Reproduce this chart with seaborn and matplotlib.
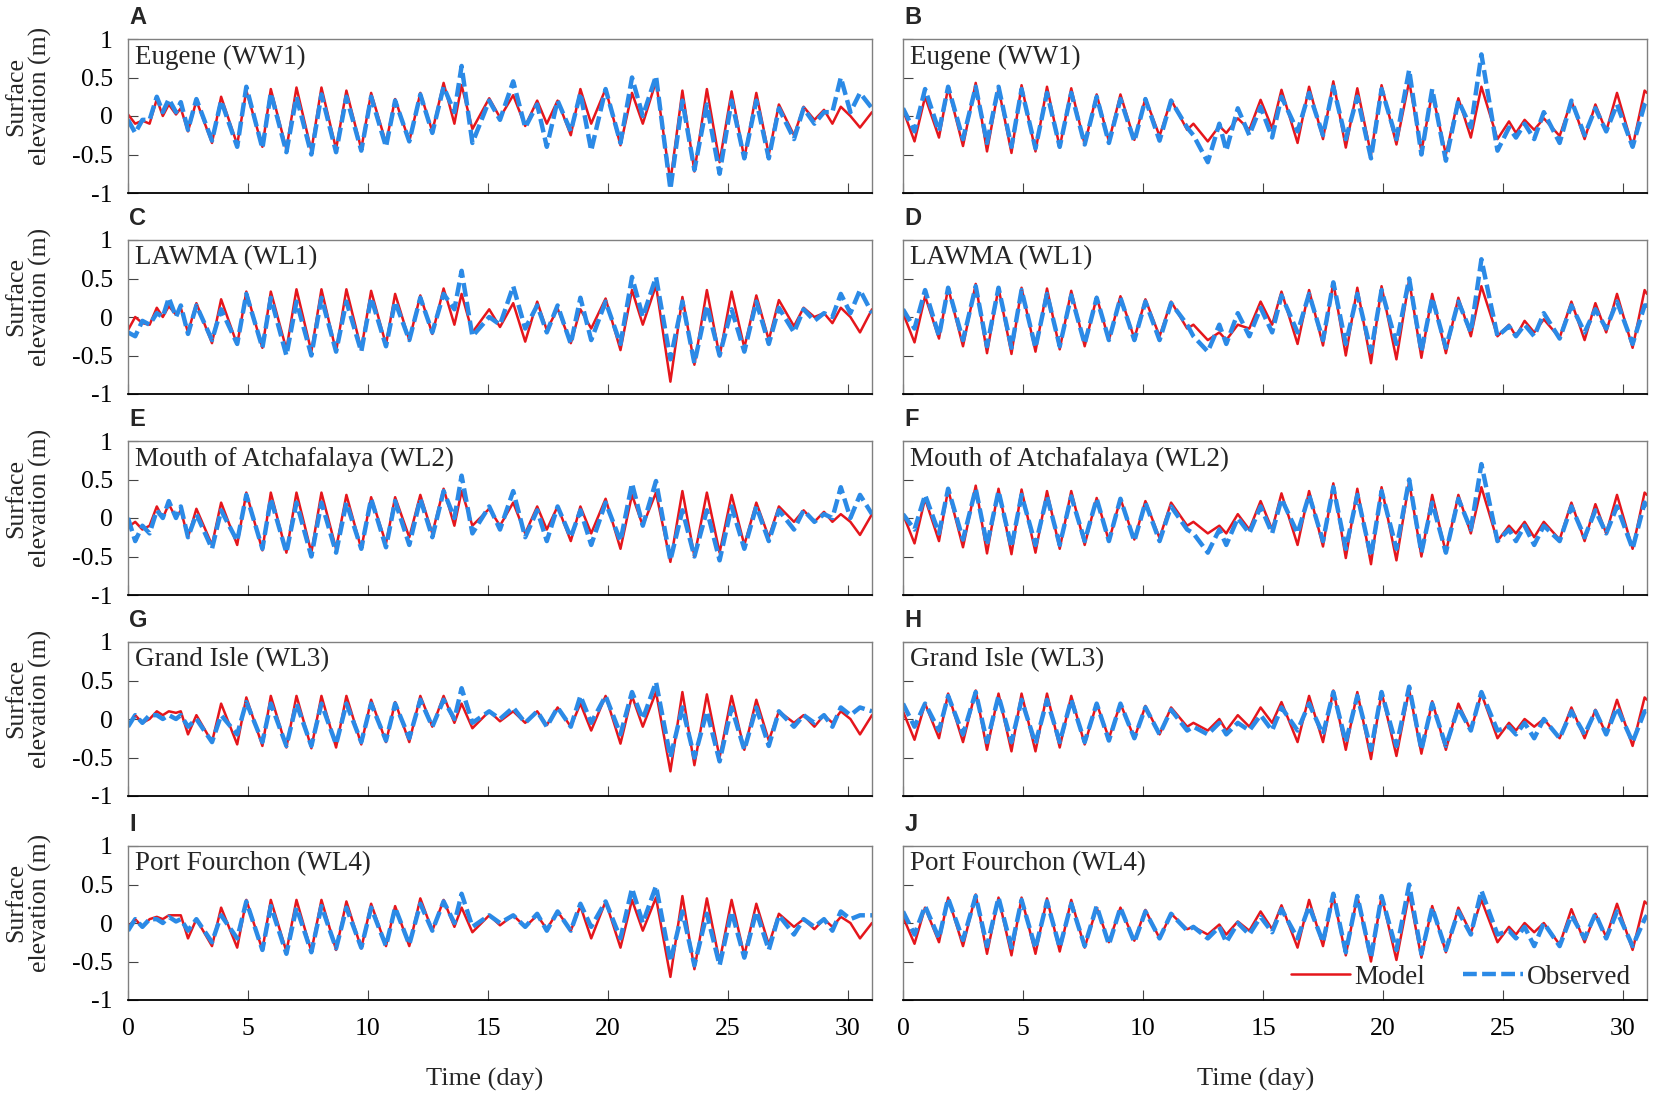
import matplotlib
matplotlib.use("Agg")
import matplotlib.pyplot as plt
import seaborn as sns

# extremum times (day)
t_left = [0.0, 0.3, 0.6, 0.9, 1.2, 1.45, 1.7, 2.0, 2.2, 2.5, 2.85, 3.5,
          3.88, 4.55, 4.93, 5.6, 5.95, 6.6, 7.02, 7.64, 8.06, 8.67, 9.1, 9.72, 10.13, 10.75, 11.13, 11.72, 12.18, 12.68, 13.15, 13.6, 13.9, 14.35,
          15.05, 15.5, 16.05, 16.55, 17.05, 17.45, 17.9, 18.45, 18.85, 19.3, 19.9, 20.52,
          21.0, 21.45, 22.0, 22.6, 23.1, 23.6, 24.12, 24.65, 25.15, 25.68, 26.18, 26.7, 27.12, 27.75, 28.15, 28.6, 29.0, 29.35, 29.7, 30.1, 30.5, 31.0]
t_right = [0.0, 0.48, 0.92, 1.5, 1.88, 2.5, 3.03, 3.5, 3.98, 4.52, 4.94, 5.52,
           6.0, 6.53, 7.01, 7.57, 8.07, 8.58, 9.06, 9.64, 10.1, 10.69, 11.17, 11.84,
           12.1, 12.7, 13.18, 13.47, 13.95, 14.43, 14.9, 15.38, 15.77, 16.44,
           16.92, 17.5, 17.93, 18.45, 18.93, 19.5, 19.94, 20.56, 21.09, 21.6, 22.05, 22.62, 23.14, 23.66,
           24.1, 24.77, 25.25, 25.54, 25.9, 26.3, 26.7, 27.36, 27.85, 28.4, 28.85, 29.3, 29.75, 30.4, 30.9, 31.0]

# surface elevation (m), left column
a_model = [0.02, -0.1, -0.06, -0.1, 0.22, 0.0, 0.15, 0.02, 0.1, -0.2, 0.2, -0.35,
           0.25, -0.37, 0.33, -0.4, 0.35, -0.43, 0.37, -0.45, 0.37, -0.43, 0.33, -0.43, 0.3, -0.35, 0.22, -0.33, 0.3, -0.2, 0.43, -0.1, 0.4, -0.17,
           0.23, -0.02, 0.27, -0.13, 0.2, -0.1, 0.2, -0.25, 0.35, -0.1, 0.35, -0.38,
           0.3, -0.1, 0.45, -0.85, 0.33, -0.72, 0.35, -0.6, 0.32, -0.55, 0.3, -0.5, 0.15, -0.25, 0.12, -0.05, 0.08, -0.1, 0.12, 0.0, -0.15, 0.05]
a_obs = [-0.05, -0.22, -0.05, -0.05, 0.25, 0.05, 0.22, 0.05, 0.18, -0.18, 0.22, -0.32,
         0.2, -0.4, 0.38, -0.42, 0.3, -0.47, 0.25, -0.5, 0.28, -0.47, 0.25, -0.45, 0.25, -0.4, 0.2, -0.33, 0.28, -0.22, 0.38, 0.05, 0.65, -0.35,
         0.2, -0.05, 0.45, -0.15, 0.15, -0.4, 0.2, -0.2, 0.3, -0.45, 0.35, -0.35,
         0.5, 0.0, 0.52, -0.95, 0.2, -0.7, 0.15, -0.75, 0.2, -0.55, 0.2, -0.55, 0.1, -0.3, 0.1, -0.1, 0.05, 0.05, 0.5, 0.05, 0.3, 0.1]
c_model = [-0.17, 0.0, -0.08, -0.1, 0.12, 0.0, 0.14, 0.03, 0.12, -0.2, 0.18, -0.34,
           0.23, -0.36, 0.33, -0.4, 0.33, -0.42, 0.36, -0.45, 0.36, -0.45, 0.36, -0.42, 0.34, -0.36, 0.3, -0.3, 0.28, -0.22, 0.37, -0.1, 0.3, -0.2,
           0.1, -0.13, 0.18, -0.32, 0.2, -0.17, 0.11, -0.34, 0.1, -0.15, 0.24, -0.43,
           0.35, -0.1, 0.41, -0.84, 0.26, -0.62, 0.35, -0.51, 0.33, -0.4, 0.28, -0.3, 0.22, -0.12, 0.12, 0.0, 0.05, -0.08, 0.12, 0.0, -0.2, 0.1]
c_obs = [-0.2, -0.25, -0.05, -0.1, 0.05, 0.0, 0.25, 0.0, 0.15, -0.22, 0.15, -0.3,
         0.1, -0.35, 0.3, -0.4, 0.25, -0.5, 0.2, -0.5, 0.25, -0.45, 0.2, -0.45, 0.25, -0.38, 0.2, -0.3, 0.25, -0.2, 0.3, 0.1, 0.6, -0.25,
         0.0, -0.1, 0.4, -0.15, 0.15, -0.2, 0.15, -0.35, 0.25, -0.3, 0.2, -0.35,
         0.52, 0.0, 0.52, -0.55, 0.2, -0.6, 0.15, -0.5, 0.1, -0.45, 0.2, -0.35, 0.12, -0.2, 0.1, -0.05, 0.05, 0.0, 0.3, 0.05, 0.35, 0.05]
e_model = [-0.12, -0.05, -0.15, -0.1, 0.15, 0.0, 0.18, 0.0, 0.1, -0.25, 0.12, -0.35,
           0.2, -0.35, 0.33, -0.42, 0.33, -0.45, 0.33, -0.45, 0.33, -0.4, 0.3, -0.4, 0.27, -0.33, 0.27, -0.25, 0.3, -0.2, 0.38, -0.1, 0.35, -0.1,
           0.12, -0.1, 0.2, -0.2, 0.15, -0.15, 0.15, -0.3, 0.15, -0.2, 0.25, -0.4,
           0.3, -0.1, 0.33, -0.57, 0.35, -0.5, 0.33, -0.45, 0.3, -0.35, 0.2, -0.25, 0.15, -0.05, 0.1, -0.05, 0.08, -0.05, 0.05, -0.05, -0.22, 0.05]
e_obs = [0.0, -0.3, -0.1, -0.2, 0.1, 0.0, 0.22, 0.0, 0.15, -0.25, 0.05, -0.4,
         0.1, -0.3, 0.3, -0.4, 0.25, -0.45, 0.2, -0.5, 0.2, -0.45, 0.2, -0.4, 0.25, -0.38, 0.22, -0.35, 0.25, -0.25, 0.35, 0.0, 0.55, -0.2,
         0.15, -0.15, 0.35, -0.25, 0.1, -0.3, 0.15, -0.25, 0.1, -0.35, 0.2, -0.3,
         0.45, -0.1, 0.48, -0.55, 0.1, -0.5, 0.1, -0.55, 0.15, -0.4, 0.15, -0.3, 0.1, -0.15, 0.1, -0.05, 0.05, 0.0, 0.4, 0.0, 0.3, 0.05]
g_model = [-0.1, 0.05, -0.05, 0.0, 0.1, 0.05, 0.1, 0.08, 0.1, -0.2, 0.05, -0.3,
           0.2, -0.33, 0.28, -0.35, 0.3, -0.37, 0.3, -0.38, 0.3, -0.37, 0.3, -0.33, 0.25, -0.3, 0.22, -0.3, 0.3, -0.1, 0.3, -0.05, 0.2, -0.12,
           0.1, -0.03, 0.1, -0.05, 0.1, -0.08, 0.15, -0.1, 0.2, -0.15, 0.3, -0.32,
           0.3, -0.1, 0.35, -0.68, 0.35, -0.6, 0.32, -0.5, 0.3, -0.4, 0.25, -0.28, 0.1, -0.05, 0.05, -0.1, 0.05, -0.05, 0.1, 0.0, -0.2, 0.05]
g_obs = [-0.1, 0.05, -0.05, 0.05, 0.05, 0.0, 0.05, 0.0, 0.05, -0.1, 0.0, -0.3,
         0.05, -0.2, 0.22, -0.3, 0.2, -0.35, 0.2, -0.35, 0.2, -0.33, 0.2, -0.3, 0.2, -0.28, 0.2, -0.25, 0.25, -0.1, 0.25, 0.0, 0.4, -0.05,
         0.1, 0.0, 0.15, -0.05, 0.1, -0.1, 0.15, -0.1, 0.3, -0.05, 0.3, -0.2,
         0.35, 0.0, 0.48, -0.5, 0.15, -0.5, 0.1, -0.55, 0.15, -0.4, 0.15, -0.35, 0.1, -0.1, 0.05, -0.05, 0.05, -0.1, 0.15, 0.05, 0.15, 0.1]
i_model = [-0.05, 0.05, -0.05, 0.05, 0.08, 0.05, 0.1, 0.1, 0.1, -0.2, 0.05, -0.3,
           0.2, -0.32, 0.3, -0.35, 0.3, -0.37, 0.3, -0.37, 0.3, -0.35, 0.28, -0.33, 0.25, -0.3, 0.22, -0.3, 0.32, -0.1, 0.3, -0.05, 0.2, -0.12,
           0.1, -0.03, 0.1, -0.05, 0.1, -0.08, 0.15, -0.1, 0.22, -0.2, 0.28, -0.32,
           0.3, -0.1, 0.33, -0.7, 0.35, -0.6, 0.32, -0.5, 0.3, -0.42, 0.25, -0.28, 0.12, -0.05, 0.05, -0.08, 0.05, -0.05, 0.08, 0.0, -0.2, 0.0]
i_obs = [-0.1, 0.05, -0.05, 0.05, 0.05, 0.0, 0.08, 0.02, 0.05, -0.1, 0.05, -0.25,
         0.1, -0.2, 0.28, -0.35, 0.22, -0.4, 0.2, -0.38, 0.22, -0.33, 0.2, -0.32, 0.2, -0.3, 0.2, -0.28, 0.25, -0.1, 0.28, 0.0, 0.38, -0.05,
         0.1, 0.0, 0.1, -0.05, 0.12, -0.1, 0.15, -0.1, 0.25, -0.05, 0.28, -0.2,
         0.45, 0.0, 0.48, -0.5, 0.15, -0.55, 0.12, -0.55, 0.15, -0.45, 0.15, -0.35, 0.1, -0.15, 0.05, -0.05, 0.05, -0.1, 0.15, 0.05, 0.1, 0.1]

# surface elevation (m), right column
b_model = [0.08, -0.33, 0.25, -0.28, 0.37, -0.39, 0.43, -0.46, 0.36, -0.48, 0.4, -0.46,
           0.38, -0.41, 0.36, -0.37, 0.28, -0.33, 0.28, -0.31, 0.23, -0.26, 0.21, -0.18,
           -0.1, -0.33, -0.13, -0.22, -0.03, -0.18, 0.21, -0.16, 0.34, -0.35,
           0.38, -0.3, 0.45, -0.41, 0.36, -0.5, 0.4, -0.37, 0.45, -0.46, 0.3, -0.5, 0.23, -0.28,
           0.38, -0.3, -0.07, -0.22, -0.05, -0.18, -0.03, -0.26, 0.2, -0.3, 0.15, -0.2, 0.3, -0.4, 0.33, 0.3]
b_obs = [0.1, -0.2, 0.35, -0.2, 0.38, -0.3, 0.38, -0.35, 0.38, -0.4, 0.35, -0.42,
         0.3, -0.4, 0.3, -0.37, 0.25, -0.35, 0.22, -0.33, 0.22, -0.32, 0.2, -0.15,
         -0.25, -0.6, -0.1, -0.45, 0.1, -0.25, 0.12, -0.28, 0.25, -0.2,
         0.3, -0.25, 0.38, -0.3, 0.25, -0.55, 0.35, -0.3, 0.6, -0.5, 0.35, -0.58, 0.2, -0.15,
         0.8, -0.45, -0.15, -0.28, -0.1, -0.3, 0.05, -0.35, 0.2, -0.25, 0.1, -0.2, 0.15, -0.4, 0.15, 0.2]
d_model = [0.05, -0.33, 0.27, -0.28, 0.38, -0.38, 0.43, -0.47, 0.38, -0.48, 0.38, -0.45,
           0.37, -0.42, 0.34, -0.38, 0.26, -0.3, 0.27, -0.28, 0.23, -0.25, 0.2, -0.15,
           -0.1, -0.3, -0.2, -0.3, -0.1, -0.15, 0.2, -0.1, 0.33, -0.35,
           0.35, -0.37, 0.45, -0.5, 0.38, -0.6, 0.4, -0.55, 0.48, -0.53, 0.3, -0.47, 0.25, -0.25,
           0.4, -0.25, -0.1, -0.25, -0.05, -0.2, -0.03, -0.27, 0.2, -0.3, 0.18, -0.2, 0.3, -0.4, 0.35, 0.3]
d_obs = [0.1, -0.15, 0.35, -0.25, 0.38, -0.3, 0.4, -0.38, 0.38, -0.4, 0.35, -0.4,
         0.3, -0.38, 0.28, -0.35, 0.25, -0.3, 0.25, -0.3, 0.2, -0.3, 0.18, -0.1,
         -0.25, -0.45, -0.1, -0.35, 0.05, -0.25, 0.12, -0.2, 0.28, -0.2,
         0.3, -0.3, 0.45, -0.35, 0.3, -0.45, 0.35, -0.35, 0.5, -0.45, 0.25, -0.4, 0.2, -0.2,
         0.75, -0.25, -0.12, -0.25, -0.1, -0.25, 0.05, -0.28, 0.15, -0.2, 0.1, -0.15, 0.2, -0.35, 0.15, 0.15]
f_model = [0.05, -0.33, 0.25, -0.3, 0.37, -0.38, 0.42, -0.46, 0.38, -0.47, 0.37, -0.45,
           0.35, -0.4, 0.35, -0.35, 0.26, -0.3, 0.25, -0.28, 0.22, -0.26, 0.2, -0.1,
           -0.05, -0.2, -0.1, -0.2, 0.05, -0.15, 0.22, -0.15, 0.32, -0.35,
           0.35, -0.37, 0.45, -0.52, 0.38, -0.6, 0.4, -0.55, 0.47, -0.5, 0.3, -0.45, 0.3, -0.2,
           0.4, -0.3, -0.1, -0.2, -0.05, -0.25, -0.05, -0.28, 0.2, -0.3, 0.18, -0.2, 0.3, -0.4, 0.33, 0.3]
f_obs = [0.05, -0.15, 0.3, -0.2, 0.38, -0.28, 0.38, -0.35, 0.35, -0.38, 0.3, -0.35,
         0.28, -0.35, 0.28, -0.3, 0.25, -0.3, 0.25, -0.3, 0.2, -0.3, 0.15, -0.15,
         -0.2, -0.45, -0.15, -0.35, 0.0, -0.2, 0.15, -0.2, 0.25, -0.2,
         0.3, -0.3, 0.4, -0.4, 0.3, -0.5, 0.35, -0.4, 0.5, -0.45, 0.2, -0.45, 0.25, -0.15,
         0.7, -0.3, -0.15, -0.3, -0.1, -0.35, -0.1, -0.3, 0.15, -0.25, 0.1, -0.2, 0.15, -0.4, 0.2, 0.15]
h_model = [0.1, -0.27, 0.2, -0.25, 0.33, -0.3, 0.37, -0.4, 0.33, -0.42, 0.33, -0.42,
           0.33, -0.37, 0.3, -0.33, 0.2, -0.25, 0.2, -0.25, 0.17, -0.2, 0.15, -0.1,
           -0.05, -0.15, 0.0, -0.15, 0.05, -0.1, 0.15, -0.05, 0.22, -0.3,
           0.3, -0.3, 0.37, -0.4, 0.35, -0.52, 0.35, -0.48, 0.38, -0.45, 0.23, -0.4, 0.2, -0.15,
           0.33, -0.25, -0.05, -0.15, 0.0, -0.1, 0.0, -0.25, 0.15, -0.25, 0.12, -0.2, 0.25, -0.35, 0.28, 0.25]
h_obs = [0.2, -0.1, 0.2, -0.15, 0.3, -0.2, 0.35, -0.3, 0.3, -0.3, 0.25, -0.32,
         0.25, -0.3, 0.25, -0.3, 0.2, -0.28, 0.2, -0.25, 0.15, -0.2, 0.12, -0.15,
         -0.1, -0.2, -0.05, -0.2, -0.05, -0.15, 0.05, -0.15, 0.15, -0.15,
         0.2, -0.2, 0.35, -0.3, 0.3, -0.4, 0.35, -0.35, 0.42, -0.4, 0.2, -0.35, 0.15, -0.15,
         0.35, -0.15, -0.1, -0.2, -0.05, -0.25, 0.0, -0.25, 0.1, -0.2, 0.1, -0.2, 0.15, -0.3, 0.1, 0.1]
j_model = [0.08, -0.27, 0.2, -0.25, 0.33, -0.3, 0.37, -0.4, 0.33, -0.42, 0.33, -0.4,
           0.32, -0.37, 0.3, -0.32, 0.2, -0.25, 0.2, -0.23, 0.17, -0.2, 0.12, -0.08,
           -0.05, -0.15, -0.02, -0.15, 0.02, -0.1, 0.15, -0.08, 0.23, -0.32,
           0.3, -0.3, 0.35, -0.42, 0.35, -0.5, 0.35, -0.48, 0.38, -0.45, 0.22, -0.38, 0.2, -0.13,
           0.3, -0.25, -0.05, -0.15, 0.0, -0.12, 0.0, -0.28, 0.18, -0.25, 0.12, -0.18, 0.25, -0.35, 0.28, 0.25]
j_obs = [0.15, -0.15, 0.22, -0.2, 0.32, -0.22, 0.35, -0.3, 0.33, -0.32, 0.3, -0.33,
         0.28, -0.32, 0.25, -0.3, 0.22, -0.28, 0.2, -0.25, 0.15, -0.2, 0.12, -0.1,
         -0.05, -0.2, -0.05, -0.25, 0.0, -0.15, 0.08, -0.12, 0.18, -0.2,
         0.22, -0.25, 0.38, -0.38, 0.35, -0.45, 0.35, -0.35, 0.5, -0.4, 0.2, -0.35, 0.15, -0.15,
         0.42, -0.15, -0.1, -0.2, -0.05, -0.3, 0.0, -0.3, 0.1, -0.2, 0.12, -0.2, 0.15, -0.3, 0.05, 0.1]

stations = ["Eugene (WW1)", "LAWMA (WL1)", "Mouth of Atchafalaya (WL2)", "Grand Isle (WL3)", "Port Fourchon (WL4)"]
letters = ["A", "B", "C", "D", "E", "F", "G", "H", "I", "J"]
left_series = [(a_model, a_obs), (c_model, c_obs), (e_model, e_obs), (g_model, g_obs), (i_model, i_obs)]
right_series = [(b_model, b_obs), (d_model, d_obs), (f_model, f_obs), (h_model, h_obs), (j_model, j_obs)]

RED = "#e5161c"
BLUE = "#2b8ae6"

sns.set_style("ticks")
plt.rcParams['font.family'] = ['Liberation Serif', 'DejaVu Serif']
plt.rcParams['axes.unicode_minus'] = False

W, H = 1654, 1099
fig = plt.figure(figsize=(W / 100, H / 100), dpi=100)
tops = [39, 240, 441, 642, 846]
lefts = [128, 903]
aw, ah = 744, 154

for row in range(5):
    for col in range(2):
        t = t_left if col == 0 else t_right
        model, obs = (left_series if col == 0 else right_series)[row]
        assert len(model) == len(t) and len(obs) == len(t), (row, col, len(t), len(model), len(obs))
        ax = fig.add_axes([lefts[col] / W, 1 - (tops[row] + ah) / H, aw / W, ah / H])
        sns.lineplot(x=t, y=model, ax=ax, color=RED, lw=1.8, sort=False)
        sns.lineplot(x=t, y=obs, ax=ax, color=BLUE, lw=3.2, sort=False)
        ax.lines[-1].set_linestyle((0, (3.1, 1.2)))
        ax.set_xlim(0, 31)
        ax.set_ylim(-1, 1)
        ax.set_xticks(range(0, 31, 5))
        ax.set_yticks([-1, -0.5, 0, 0.5, 1])
        ax.set_yticklabels(["-1", "-0.5", "0", "0.5", "1"])
        ax.tick_params(direction="in", length=7, width=0.8, color="#444444",
                       labelsize=18.5, labelcolor="black")
        ax.tick_params(axis="x", pad=13)
        ax.tick_params(axis="y", pad=11)
        if col == 1:
            ax.tick_params(axis="y", labelleft=False)
        if row < 4:
            ax.tick_params(axis="x", labelbottom=False)
        for side in ["left", "top", "right"]:
            ax.spines[side].set_color("#808080")
            ax.spines[side].set_linewidth(1.0)
        ax.spines["bottom"].set_color("black")
        ax.spines["bottom"].set_linewidth(1.3)
        ax.text(0.009, 0.965, stations[row], transform=ax.transAxes, ha="left", va="top", fontsize=19.5)
        ax.text(0.002, 1.1, letters[row * 2 + col], transform=ax.transAxes, ha="left", va="baseline",
                fontsize=17, fontweight="bold", family=["Liberation Sans", "DejaVu Sans"])
        if col == 0:
            fig.text(29 / W, 1 - (tops[row] + ah / 2 - 20) / H, "Surface\nelevation (m)", rotation=90,
                     ha="center", va="center", multialignment="center", fontsize=18.5, linespacing=1.1)
        if row == 4 and col == 1:
            ax.legend(ax.lines[:2], ["Model", "Observed"], ncol=2, frameon=False, loc="lower right",
                      bbox_to_anchor=(1.0, -0.04), fontsize=19.5, handlelength=2.2, handletextpad=0.15,
                      columnspacing=1.4, borderaxespad=0.2)

fig.text(485 / W, 1 - 1079 / H, "Time (day)", ha="center", va="center", fontsize=19)
fig.text(1256 / W, 1 - 1079 / H, "Time (day)", ha="center", va="center", fontsize=19)

fig.savefig("out.png", dpi=100)
